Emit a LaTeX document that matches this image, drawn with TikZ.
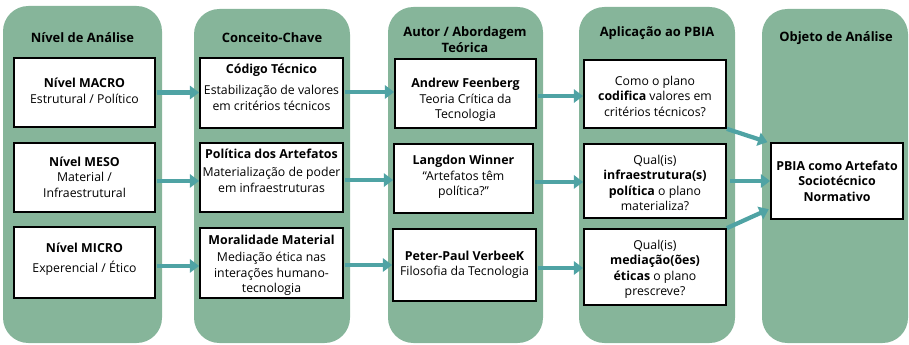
\documentclass[tikz,border=0pt]{standalone}
\usepackage{fontspec}
\setmainfont{Open Sans}
\usetikzlibrary{fit,arrows.meta,calc}
\definecolor{panelgreen}{HTML}{86B59A}
\definecolor{arrowteal}{HTML}{4FA3A4}
\newcommand{\bt}[1]{{\fontsize{9.3}{11.6}\selectfont\bfseries #1}}
\begin{document}
\begin{tikzpicture}[x=0.75pt,y=-0.75pt,
  panel/.style={fill=panelgreen, rounded corners=19pt, inner sep=0pt, draw=none},
  box/.style={draw=black, line width=1.3pt, fill=white, inner sep=0pt},
  head/.style={font=\bfseries\fontsize{9.7}{11.8}\selectfont, align=center},
  ttl/.style={font=\bfseries\fontsize{9.3}{11.6}\selectfont},
  desc/.style={font=\fontsize{9.2}{11.6}\selectfont, align=center, inner sep=0pt},
  conn/.style={draw=arrowteal, line width=3.2pt, -{Triangle[length=7pt,width=10pt]}}
]
\useasboundingbox (0,0) rectangle (909,345);
% panels
\node[panel, fit={(3,6) (162,343)}] (p1) {};
\node[panel, fit={(194,9) (350,343)}] (p2) {};
\node[panel, fit={(388,7) (543,343)}] (p3) {};
\node[panel, fit={(579,7) (735,343)}] (p4) {};
\node[panel, fit={(762,9) (908,343)}] (p5) {};
% headers
\node[head] (h1) at (82.5,38) {Nível de Análise};
\node[head] (h2) at (272,38) {Conceito-Chave};
\node[head] (h3) at (465,40) {Autor / Abordagem\\Teórica};
\node[head] (h4) at (657,33) {Aplicação ao PBIA};
\node[head] (h5) at (836,38) {Objeto de Análise};
% boxes
\node[box, fit={(14,58) (155,127)}] (a1) {};
\node[box, fit={(14,143) (155,212)}] (a2) {};
\node[box, fit={(14,227) (155,298)}] (a3) {};
\node[box, fit={(200,58) (343,128)}] (b1) {};
\node[box, fit={(200,143) (343,212)}] (b2) {};
\node[box, fit={(200,228) (343,298)}] (b3) {};
\node[box, fit={(395,59) (536,128)}] (c1) {};
\node[box, fit={(394,144) (533,213)}] (c2) {};
\node[box, fit={(393,229) (536,301)}] (c3) {};
\node[box, fit={(584,60) (726,128)}] (d1) {};
\node[box, fit={(584,144) (726,218)}] (d2) {};
\node[box, fit={(584,229) (726,305)}] (d3) {};
\node[box, fit={(771,143) (903,219)}] (e) {};
% column 1 texts
\node[desc] (a1t) at (84.5,91) {\bt{Nível MACRO}\\Estrutural / Político};
\node[desc] (a2t) at (84.5,177) {\bt{Nível MESO}\\Material /\\Infraestrutural};
\node[desc] (a3t) at (84.5,259) {\bt{Nível MICRO}\\[3pt]Experencial / Ético};
% column 2 texts
\node[ttl] (b1t) at (271.5,70) {Código Técnico};
\node[desc] (b1d) at (271.5,98) {Estabilização de valores\\em critérios técnicos};
\node[ttl] (b2t) at (271.5,154) {Política dos Artefatos};
\node[desc] (b2d) at (271.5,180) {Materialização de poder\\em infraestruturas};
\node[ttl] (b3t) at (271.5,240) {Moralidade Material};
\node[desc] (b3d) at (271.5,274) {Mediação ética nas\\interações humano-\\tecnologia};
% column 3 texts
\node[desc] (c1t) at (465.5,100) {\bt{Andrew Feenberg}\\Teoria Crítica da\\Tecnologia};
\node[desc] (c2t) at (463.5,177) {\bt{Langdon Winner}\\“Artefatos têm\\política?”};
\node[desc] (c3t) at (464.5,265) {\bt{Peter-Paul VerbeeK}\\Filosofia da Tecnologia};
% column 4 texts
\node[desc] (d1t) at (655,96) {Como o plano\\\bt{codifica} valores em\\critérios técnicos?};
\node[desc] (d2t) at (655,183) {Qual(is)\\\bt{infraestrutura(s)}\\\bt{política} o plano\\materializa?};
\node[desc] (d3t) at (655,269.5) {Qual(is)\\\bt{mediação(ões)}\\\bt{éticas} o plano\\prescreve?};
% column 5 text
\node[desc] (et) at (837,181) {\bt{PBIA como Artefato}\\\bt{Sociotécnico}\\\bt{Normativo}};
% connectors
\draw[conn] ([xshift=1pt]a1.east) -- (a1.east -| b1.west);
\draw[conn] ([xshift=1pt,yshift=-2.6pt]a2.east) -- ([yshift=-2.6pt]a2.east -| b2.west);
\draw[conn] ([xshift=1pt,yshift=-2.6pt]a3.east) -- ([yshift=-2.6pt]a3.east -| b3.west);
\draw[conn] ([xshift=1pt,yshift=0.75pt]b1.east) -- ([yshift=0.75pt]b1.east -| c1.west);
\draw[conn] ([xshift=1pt,yshift=-1.9pt]b2.east) -- ([yshift=-1.9pt]b2.east -| c2.west);
\draw[conn] ([xshift=1pt,yshift=-1.5pt]b3.east) -- ([yshift=-1.5pt]b3.east -| c3.west);
\draw[conn] ([xshift=1pt,yshift=-1.9pt]c1.east) -- ([yshift=-1.9pt]c1.east -| d1.west);
\draw[conn] ([xshift=1pt,yshift=-2.6pt]c2.east) -- ([yshift=-2.6pt]c2.east -| d2.west);
\draw[conn] ([xshift=1pt,yshift=-2.25pt]c3.east) -- ([yshift=-2.25pt]c3.east -| d3.west);
\draw[conn] (d1.south east) -- ([xshift=-2pt]e.north west);
\draw[conn] ([xshift=2pt]d2.east) -- (e.west);
\draw[conn] (d3.north east) -- ([xshift=-1pt,yshift=8pt]e.south west);
\end{tikzpicture}
\end{document}
